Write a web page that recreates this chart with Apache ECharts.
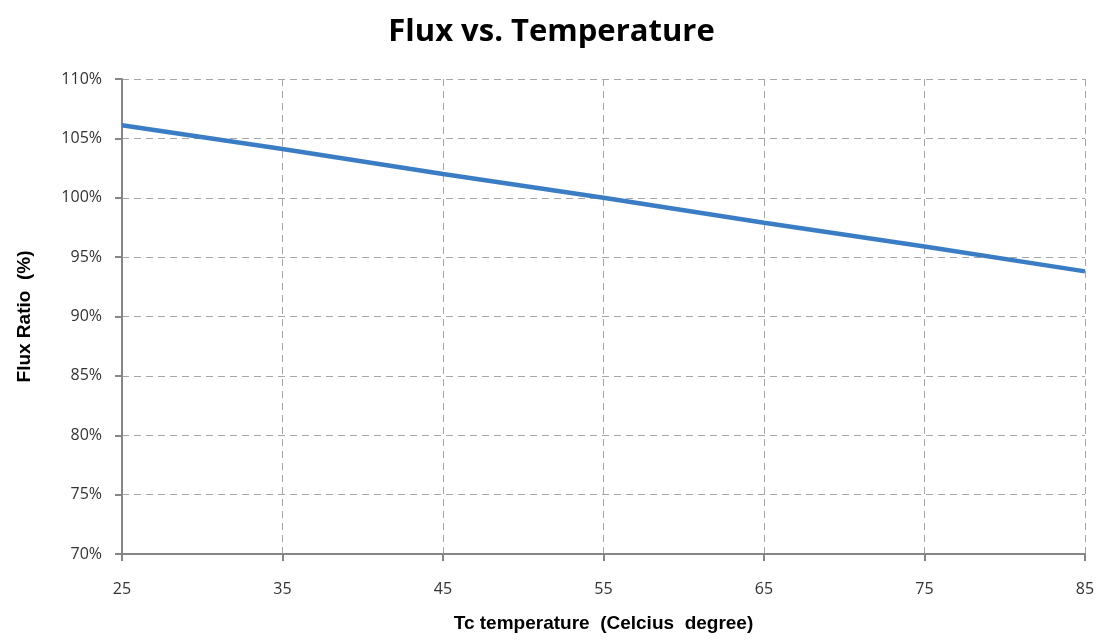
<!DOCTYPE html>
<html>
<head>
<meta charset="utf-8">
<script src="https://cdn.jsdelivr.net/npm/echarts@6/dist/echarts.min.js"></script>
<style>html,body{margin:0;padding:0;background:#fff;}#c{width:1103px;height:641px;}</style>
</head>
<body>
<div id="c"></div>
<script>
const temperatures = [25, 35, 45, 55, 65, 75, 85];
const fluxRatio = [106.1, 104.1, 102.0, 100.0, 97.9, 95.9, 93.8];
const yTicks = {min: 70, max: 110, step: 5};

const chart = echarts.init(document.getElementById('c'));
chart.setOption({
  backgroundColor: '#fff',
  animation: false,
  title: {
    text: 'Flux vs. Temperature',
    left: 'center',
    top: 12,
    textStyle: {fontFamily: 'Open Sans', fontWeight: 'bold', fontSize: 31, color: '#000'}
  },
  grid: {left: 122, right: 18, top: 79, bottom: 87},
  xAxis: {
    type: 'category',
    data: temperatures.map(String),
    boundaryGap: false,
    name: 'Tc temperature  (Celcius  degree)',
    nameLocation: 'middle',
    nameGap: 60,
    nameTextStyle: {fontFamily: 'Liberation Sans', fontWeight: 'bold', fontSize: 19, color: '#000'},
    axisLine: {show: true, lineStyle: {color: '#868686', width: 2}},
    axisTick: {show: true, alignWithLabel: true, length: 7, lineStyle: {color: '#868686', width: 2}},
    axisLabel: {fontFamily: 'Open Sans', fontSize: 16, color: '#333', margin: 27},
    splitLine: {show: true, interval: 0, lineStyle: {color: '#a6a6a6', type: [7, 5], width: 1}}
  },
  yAxis: {
    type: 'value',
    min: yTicks.min,
    max: yTicks.max,
    interval: yTicks.step,
    name: 'Flux Ratio  (%)',
    nameLocation: 'middle',
    nameGap: 88,
    nameTextStyle: {fontFamily: 'Liberation Sans', fontWeight: 'bold', fontSize: 19, color: '#000'},
    axisLine: {show: true, lineStyle: {color: '#868686', width: 2}},
    axisTick: {show: true, length: 7, lineStyle: {color: '#868686', width: 2}},
    axisLabel: {fontFamily: 'Open Sans', fontSize: 16, color: '#333', margin: 20, formatter: '{value}%'},
    splitLine: {show: true, lineStyle: {color: '#a6a6a6', type: [7, 5], width: 1}}
  },
  series: [{
    type: 'line',
    data: fluxRatio,
    symbol: 'none',
    lineStyle: {color: '#3b7dc4', width: 4.5},
    itemStyle: {color: '#3b7dc4'}
  }]
});
</script>
</body>
</html>
